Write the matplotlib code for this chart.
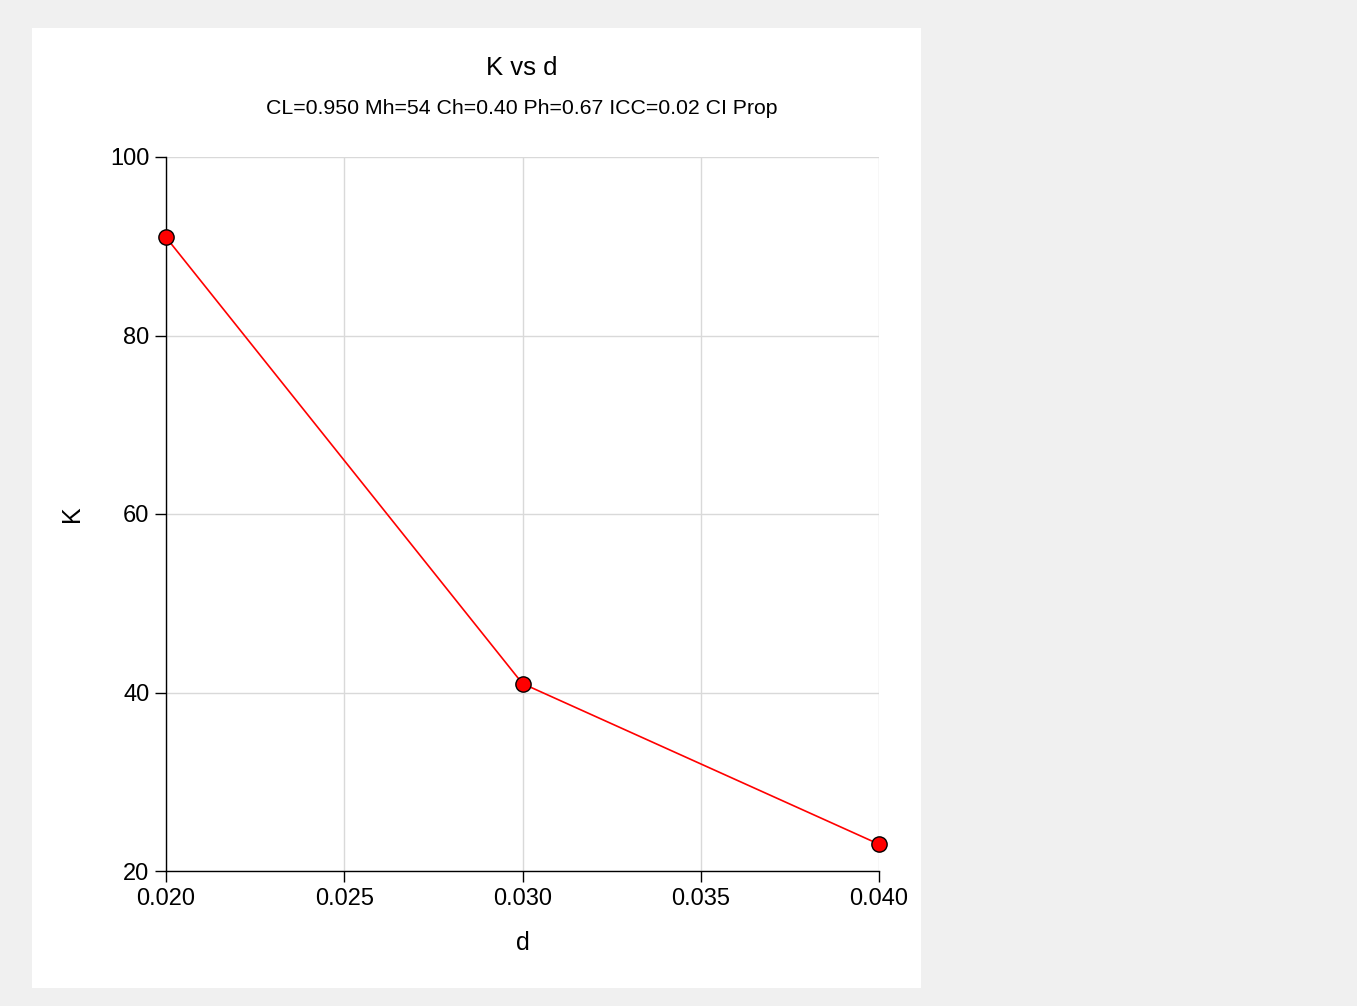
import matplotlib.pyplot as plt
from matplotlib.patches import Rectangle

plt.rcParams['font.family'] = ['Liberation Sans', 'DejaVu Sans']

# data
d_values = [0.020, 0.030, 0.040]
k_values = [91, 41, 23]
x_ticks = [0.020, 0.025, 0.030, 0.035, 0.040]
y_ticks = [20, 40, 60, 80, 100]

fig = plt.figure(figsize=(13.57, 10.06), dpi=100)
fig.patch.set_facecolor('#f0f0f0')

# white panel behind the chart
panel = Rectangle((32 / 1357, 1 - 988 / 1006), (921 - 32) / 1357, (988 - 28) / 1006,
                  transform=fig.transFigure, facecolor='white', edgecolor='none', zorder=-5)
fig.patches.append(panel)

ax = fig.add_axes([166 / 1357, 135 / 1006, 713 / 1357, 714 / 1006])
ax.set_facecolor('white')

ax.plot(d_values, k_values, color='red', linewidth=1.2, marker='o', markersize=11,
        markerfacecolor='red', markeredgecolor='black', markeredgewidth=1, clip_on=False, zorder=3)

ax.set_xlim(0.020, 0.040)
ax.set_ylim(20, 100)
ax.set_xticks(x_ticks)
ax.set_xticklabels([f'{v:.3f}' for v in x_ticks])
ax.set_yticks(y_ticks)
ax.grid(True, color='#d9d9d9', linewidth=1)
ax.set_axisbelow(True)

for side in ['top', 'right']:
    ax.spines[side].set_visible(False)
for side in ['left', 'bottom']:
    ax.spines[side].set_color('black')
    ax.spines[side].set_linewidth(1)

ax.tick_params(axis='both', labelsize=17, length=8, width=1, color='black', pad=4)
ax.set_xlabel('d', fontsize=18, va='center')
ax.set_ylabel('K', fontsize=18, va='center')
ax.xaxis.set_label_coords(0.5, -0.101)
ax.yaxis.set_label_coords(-0.132, 0.5)

fig.text(522 / 1357, 1 - 68 / 1006, 'K vs d', ha='center', va='center', fontsize=18.5)
fig.text(522 / 1357, 1 - 108 / 1006, 'CL=0.950 Mh=54 Ch=0.40 Ph=0.67 ICC=0.02 CI Prop',
         ha='center', va='center', fontsize=15.3)

fig.savefig('out.png', dpi=100, facecolor=fig.get_facecolor())
